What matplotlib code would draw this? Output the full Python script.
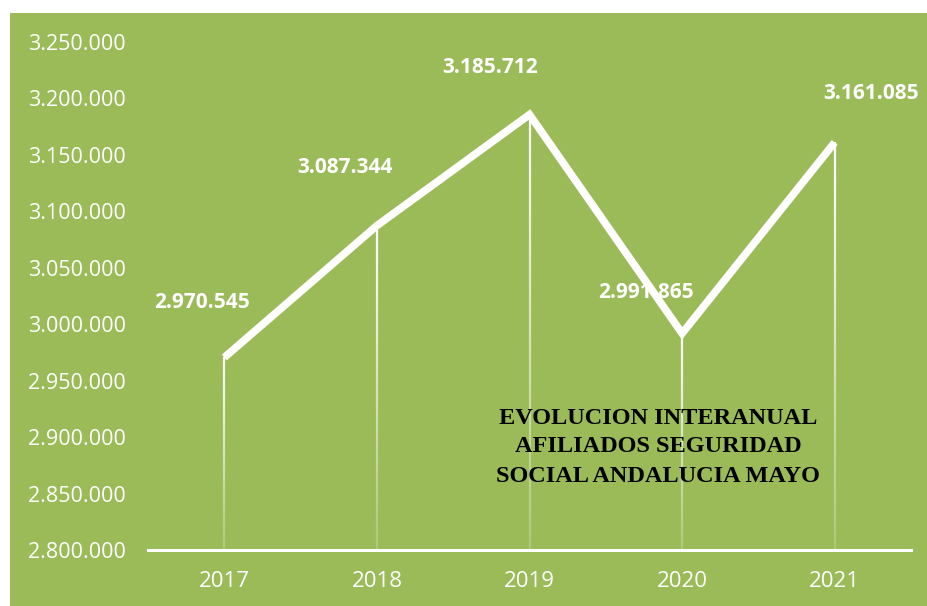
import numpy as np
import matplotlib.pyplot as plt
from matplotlib.collections import LineCollection
from matplotlib.patches import Rectangle

years = ["2017", "2018", "2019", "2020", "2021"]
afiliados = [2970545, 3087344, 3185712, 2991865, 3161085]
value_labels = ["2.970.545", "3.087.344", "3.185.712", "2.991.865", "3.161.085"]
yticks = [2800000, 2850000, 2900000, 2950000, 3000000, 3050000,
          3100000, 3150000, 3200000, 3250000]
title = "EVOLUCION INTERANUAL\nAFILIADOS SEGURIDAD\nSOCIAL ANDALUCIA MAYO"

green = "#9BBB59"

fig = plt.figure(figsize=(9.28, 6.06), dpi=100, facecolor="white")
# green chart area (small white margin top/left like the original)
fig.patches.append(Rectangle((10 / 928, 0), 1, 1 - 13 / 606,
                             transform=fig.transFigure, facecolor=green,
                             edgecolor="none", zorder=-10))
ax = fig.add_axes([148 / 928, 1 - 550 / 606, (911 - 148) / 928, (550 - 42) / 606])
ax.set_zorder(1)
ax.set_facecolor("none")

x = np.arange(len(years))
y0 = yticks[0]

# drop lines, fading towards the axis
for xi, yi in zip(x, afiliados):
    ys = np.linspace(yi, y0, 60)
    segs = [[(xi, ys[k]), (xi, ys[k + 1])] for k in range(len(ys) - 1)]
    alphas = np.linspace(1.0, 0.2, len(segs))
    cols = [(1, 1, 1, a) for a in alphas]
    ax.add_collection(LineCollection(segs, colors=cols, linewidths=1.6, zorder=2))

ax.plot(x, afiliados, color="white", lw=5.5, solid_joinstyle="miter",
        solid_capstyle="butt", zorder=3)

offsets = [(-22, 55), (-32, 58), (-39, 47), (-36, 41), (36, 49)]
for xi, yi, lab, off in zip(x, afiliados, value_labels, offsets):
    ax.annotate(lab, (xi, yi), xytext=off, textcoords="offset pixels",
                ha="center", va="center", color="white", fontsize=15,
                fontweight="bold", family="Open Sans", zorder=4)

ax.set_xlim(-0.5, len(years) - 0.5)
ax.set_ylim(yticks[0], yticks[-1])
ax.set_xticks(x)
ax.set_xticklabels(years, family="Open Sans", fontsize=16, color="white")
ax.set_yticks(yticks)
ax.set_yticklabels([f"{v:,}".replace(",", ".") for v in yticks],
                   family="Open Sans", fontsize=15.5, color="white")
ax.tick_params(length=0, pad=15)
ax.tick_params(axis="y", pad=0)
for lbl in ax.get_yticklabels():
    lbl.set_horizontalalignment("left")
    lbl.set_x(-120 / 763)

for s in ["top", "right", "left"]:
    ax.spines[s].set_visible(False)
ax.spines["bottom"].set_color("white")
ax.spines["bottom"].set_linewidth(2.2)

ax.text(658 / 928, 1 - 447 / 606, title, transform=fig.transFigure,
        ha="center", va="center", fontsize=17.5, fontweight="bold",
        family="Liberation Serif", color="black", linespacing=1.5, zorder=5)

fig.savefig("out.png", dpi=100, facecolor="white")
